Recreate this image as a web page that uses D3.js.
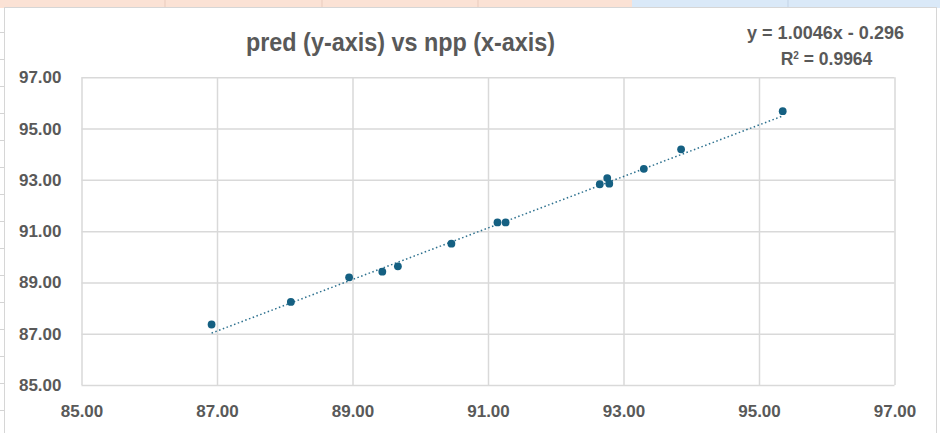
<!DOCTYPE html>
<html>
<head>
<meta charset="utf-8">
<script src="https://cdn.jsdelivr.net/npm/d3@7"></script>
<style>
  html, body { margin: 0; padding: 0; background: #ffffff; }
  svg { display: block; }
  .lbl { font-family: "Liberation Sans", Arial, sans-serif; font-weight: bold; fill: #595959; }
</style>
</head>
<body>
<svg id="chart" width="940" height="433"></svg>
<script>
// ---- data ----
const npp  = [86.92, 88.09, 88.95, 89.44, 89.67, 90.46, 91.14, 91.26, 92.65, 92.76, 92.79, 93.30, 93.85, 95.35];
const pred = [87.36, 88.24, 89.20, 89.42, 89.63, 90.51, 91.34, 91.34, 92.83, 93.07, 92.85, 93.43, 94.19, 95.68];
const xTicks = [85, 87, 89, 91, 93, 95, 97];
const yTicks = [85, 87, 89, 91, 93, 95, 97];
const slope = 1.0046, intercept = -0.296;
const titleText = "pred (y-axis) vs npp (x-axis)";
const eqText = "y = 1.0046x - 0.296";
const r2Value = "0.9964";

const svg = d3.select("#chart");
const W = 940, H = 433;

// ---- spreadsheet backdrop ----
svg.append("rect").attr("x", 0).attr("y", 0).attr("width", 632).attr("height", 8).attr("fill", "#fbe2d5");
svg.append("rect").attr("x", 632).attr("y", 0).attr("width", 308).attr("height", 8).attr("fill", "#dae9f8");
[165, 322, 478].forEach(x => svg.append("line").attr("x1", x).attr("x2", x).attr("y1", 0).attr("y2", 8).attr("stroke", "#e9cbbd").attr("stroke-width", 1));
[788].forEach(x => svg.append("line").attr("x1", x).attr("x2", x).attr("y1", 0).attr("y2", 8).attr("stroke", "#c3d3e6").attr("stroke-width", 1));
d3.range(32, H, 27).forEach(y => svg.append("line").attr("x1", 0).attr("x2", 4).attr("y1", y + 0.5).attr("y2", y + 0.5).attr("stroke", "#d4d4d4"));

// chart frame
svg.append("rect").attr("x", 4.5).attr("y", 7.5).attr("width", 932).attr("height", 440)
  .attr("fill", "#ffffff").attr("stroke", "#d6d6d6").attr("stroke-width", 1);

// ---- scales ----
const L = 81.5, R = 894.5, T = 77.3, B = 385;
const x = d3.scaleLinear().domain([85, 97]).range([L, R]);
const y = d3.scaleLinear().domain([85, 97]).range([B, T]);

// gridlines via axes
const gx = svg.append("g").attr("transform", `translate(0,${B})`)
  .call(d3.axisBottom(x).tickValues(xTicks).tickSize(-(B - T)).tickFormat(d => d.toFixed(2)).tickPadding(18));
const gy = svg.append("g").attr("transform", `translate(${L},0)`)
  .call(d3.axisLeft(y).tickValues(yTicks).tickSize(-(R - L)).tickFormat(d => d.toFixed(2)).tickPadding(20));
[gx, gy].forEach(g => {
  g.select(".domain").remove();
  g.selectAll(".tick line").attr("stroke", "#d9d9d9").attr("stroke-width", 1.5);
  g.selectAll(".tick text").attr("class", "lbl").attr("font-size", 17);
});
gx.selectAll(".tick text").attr("dy", "0.35em").attr("y", 26);
gy.selectAll(".tick text").attr("x", -20);

// trendline
const xr = d3.extent(npp);
svg.append("line")
  .attr("x1", x(xr[0])).attr("y1", y(slope * xr[0] + intercept))
  .attr("x2", x(xr[1])).attr("y2", y(slope * xr[1] + intercept))
  .attr("stroke", "#156082").attr("stroke-width", 1.5)
  .attr("stroke-opacity", 0.9)
  .attr("stroke-dasharray", "1.5 2.5");

// points
svg.append("g").selectAll("circle").data(npp).join("circle")
  .attr("cx", (d, i) => x(d)).attr("cy", (d, i) => y(pred[i]))
  .attr("r", 3.9).attr("fill", "#156082");

// title
svg.append("text").attr("class", "lbl").attr("x", 400.5).attr("y", 51)
  .attr("text-anchor", "middle").attr("font-size", 25)
  .attr("textLength", 309).attr("lengthAdjust", "spacingAndGlyphs").text(titleText);

// equation
svg.append("text").attr("class", "lbl").attr("x", 825.5).attr("y", 39)
  .attr("text-anchor", "middle").attr("font-size", 17.5)
  .attr("textLength", 157).attr("lengthAdjust", "spacingAndGlyphs").text(eqText);
const r2 = svg.append("text").attr("class", "lbl").attr("x", 826.5).attr("y", 65)
  .attr("text-anchor", "middle").attr("font-size", 17.5);
r2.append("tspan").text("R");
r2.append("tspan").attr("dy", -6).attr("font-size", 10).text("2");
r2.append("tspan").attr("dy", 6).text(" = " + r2Value);
</script>
</body>
</html>
